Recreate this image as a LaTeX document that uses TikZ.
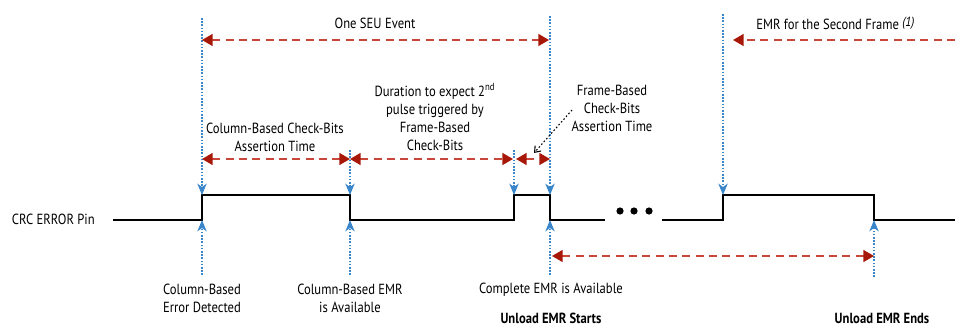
\documentclass[tikz,border=0pt]{standalone}
\usepackage{fontspec}
\setmainfont{PT Sans}[FakeStretch=0.86]
\usepackage{xcolor}
\usetikzlibrary{positioning, arrows.meta}

\definecolor{spanred}{HTML}{C9463B}
\definecolor{tipred}{HTML}{A81808}
\definecolor{guideblue}{HTML}{3A86CA}

\tikzset{
    span/.style={draw=spanred, line width=1.1pt, dash pattern=on 6pt off 4pt,
        {Triangle[length=8pt,width=9pt,color=tipred]}-{Triangle[length=8pt,width=9pt,color=tipred]}},
    spanend/.style={draw=spanred, line width=1.1pt, dash pattern=on 6pt off 4pt,
        -{Triangle[length=8pt,width=9pt,color=tipred]}},
    guide/.style={draw=guideblue, line width=1.2pt, dash pattern=on 1.2pt off 1.2pt,
        -{Stealth[length=8.5pt,width=7pt,inset=2.5pt,color=guideblue]}},
    wave/.style={line width=2.2pt, line join=miter},
    lbl/.style={font=\fontsize{11}{13.5}\selectfont, align=center, inner sep=0pt},
    boldlbl/.style={lbl, font=\fontsize{11}{13.5}\selectfont\bfseries},
}

\begin{document}
\begin{tikzpicture}[x=0.75pt, y=-0.75pt]

    \useasboundingbox (0,0) rectangle (955,328);

    % Signal level points of the CRC ERROR pin
    \coordinate (w0) at (113,220);
    \coordinate (r1lo) at (202,220); \coordinate (r1hi) at (202,195);
    \coordinate (f1hi) at (350,195); \coordinate (f1lo) at (350,220);
    \coordinate (r2lo) at (514,220); \coordinate (r2hi) at (514,195);
    \coordinate (f2hi) at (550,195); \coordinate (f2lo) at (550,220);
    \coordinate (w1) at (605,220);
    \coordinate (w2) at (662,220);
    \coordinate (r3lo) at (723,220); \coordinate (r3hi) at (723,195);
    \coordinate (f3hi) at (874,195); \coordinate (f3lo) at (874,220);
    \coordinate (w3) at (955,220);

    % Waveform, first part and second part
    \draw[wave] (w0) -- (r1lo) -- (r1hi) -- (f1hi) -- (f1lo) -- (r2lo)
                -- (r2hi) -- (f2hi) -- (f2lo) -- (w1);
    \draw[wave] (w2) -- (r3lo) -- (r3hi) -- (f3hi) -- (f3lo) -- (w3);

    % Ellipsis between the two parts
    \foreach \dx in {620,634,649}
        \fill (\dx,211) circle (2.7pt);

    % Pin name
    \node[lbl, anchor=east] (pin) at (95,219) {CRC ERROR Pin};

    % Blue guide lines from above
    \coordinate (g1top) at (202,18);
    \coordinate (g2top) at (350,150);
    \coordinate (g3top) at (514,150);
    \coordinate (g4top) at (550,16);
    \coordinate (g5top) at (723,14);
    \draw[guide] (g1top) -- (r1hi);
    \draw[guide] (g2top) -- (f1hi);
    \draw[guide] (g3top) -- (r2hi);
    \draw[guide] (g4top) -- (f2hi);
    \draw[guide] (g5top) -- (r3hi);

    % Blue guide lines from below
    \coordinate (g1bot) at (202,275);
    \coordinate (g2bot) at (350,275);
    \coordinate (g4bot) at (550,275);
    \coordinate (g6bot) at (874,277);
    \draw[guide] (g1bot) -- (r1lo);
    \draw[guide] (g2bot) -- (f1lo);
    \draw[guide] (g4bot) -- (f2lo);
    \draw[guide] (g6bot) -- (f3lo);

    % Top spans: SEU event and second frame
    \coordinate (seuL) at (202,40); \coordinate (seuR) at (549,40);
    \coordinate (emrR) at (955,40); \coordinate (emrL) at (733,40);
    \draw[span] (seuL) -- (seuR);
    \draw[spanend] (emrR) -- (emrL);
    \node[lbl] (seu) at (375,23) {One SEU Event};
    \node[lbl, anchor=west] (emr2) at (756,23)
        {EMR for the Second Frame~\raisebox{0.45ex}{\itshape\fontsize{10}{12}\selectfont(1)}};

    % Check-bit spans
    \coordinate (cbA) at (202,159); \coordinate (cbB) at (350,159);
    \coordinate (cbC) at (513,159); \coordinate (cbD) at (516,159);
    \coordinate (cbE) at (550,159);
    \draw[span] (cbA) -- (cbB);
    \draw[span] (cbB) -- (cbC);
    \draw[span] (cbD) -- (cbE);
    \node[lbl] (colchk) at (275,137) {Column-Based Check-Bits\\Assertion Time};
    \node[lbl] (dur) at (435,117)
        {Duration to expect 2\textsuperscript{nd}\\pulse triggered by\\Frame-Based\\Check-Bits};
    \node[lbl] (frmchk) at (612,108) {Frame-Based\\Check-Bits\\Assertion Time};

    % Pointer from the frame-based label
    \coordinate (ptrS) at (572,110); \coordinate (ptrE) at (534,153);
    \draw[line width=0.8pt, dash pattern=on 1.2pt off 1.6pt,
          -{Straight Barb[length=4pt,width=6pt]}] (ptrS) -- (ptrE);

    % Unload span
    \coordinate (unL) at (552,256); \coordinate (unR) at (874,256);
    \draw[span] (unL) -- (unR);

    % Bottom labels
    \node[lbl] (coldet) at (202,298) {Column-Based\\Error Detected};
    \node[lbl] (colemr) at (350,298) {Column-Based EMR\\is Available};
    \node[lbl] (cmplt) at (551,290) {Complete EMR is Available};
    \node[boldlbl] (ustart) at (551,318) {Unload EMR Starts};
    \node[boldlbl] (uend) at (882,318) {Unload EMR Ends};

\end{tikzpicture}
\end{document}
